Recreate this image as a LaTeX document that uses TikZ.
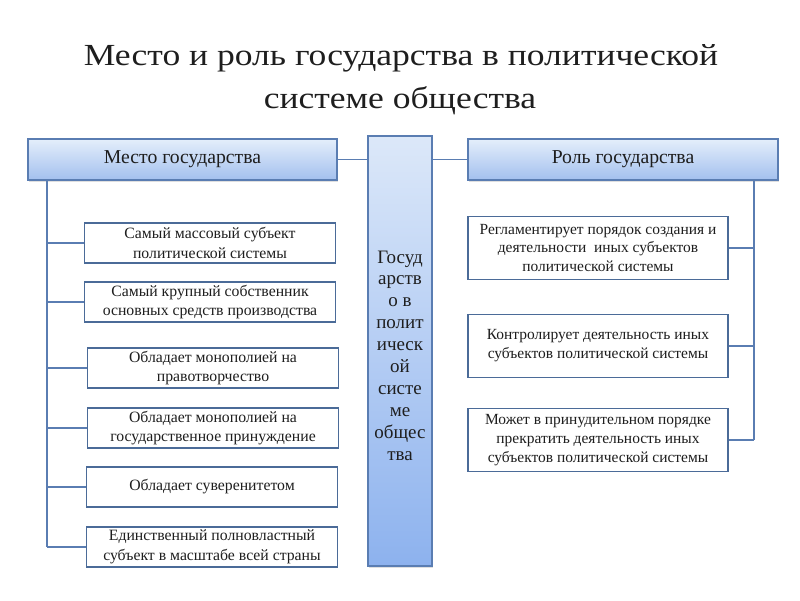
\documentclass[tikz,border=0pt]{standalone}
\usepackage{fontspec}
\setmainfont{Liberation Serif}
\newfontfamily\titlefont[FakeStretch=1.16]{Liberation Serif}
\usepackage{tikz}
\usetikzlibrary{positioning, calc, shadows}
\definecolor{headtop}{HTML}{E4EEFB}
\definecolor{headbot}{HTML}{A3C0EE}
\definecolor{coltop}{HTML}{DCE8F9}
\definecolor{colbot}{HTML}{8DB2EE}
\definecolor{frame}{HTML}{5A7DB2}
\definecolor{boxline}{HTML}{4B6B98}
\definecolor{ink}{HTML}{1E1E1E}
\tikzset{
  titletext/.style={anchor=base, text=ink, inner sep=0pt,
                    font=\titlefont\fontsize{21.8}{26}\selectfont},
  headbox/.style={draw=frame, line width=1.1pt, shading=axis, top color=headtop,
                  bottom color=headbot, minimum height=1.025cm, text=ink,
                  font=\fontsize{14}{16}\selectfont,
                  drop shadow={opacity=0.25, shadow xshift=0.6pt, shadow yshift=-1.2pt}},
  colbox/.style={draw=frame, line width=1.1pt, shading=axis, top color=coltop,
                 bottom color=colbot, minimum width=1.6cm, minimum height=10.75cm,
                 align=center, text=ink, inner sep=1pt,
                 font=\fontsize{13.5}{15.6}\selectfont,
                 drop shadow={opacity=0.25, shadow xshift=0.6pt, shadow yshift=-1.2pt}},
  itemL/.style={draw=boxline, line width=1pt, fill=white, minimum width=6.275cm,
                minimum height=1cm, align=center, text=ink, inner sep=1pt,
                font=\fontsize{11.2}{14}\selectfont},
  itemR/.style={draw=boxline, line width=1pt, fill=white, minimum width=6.5cm,
                minimum height=1.575cm, align=center, text=ink, inner sep=1pt,
                font=\fontsize{11}{13.5}\selectfont},
  link/.style={draw=frame, line width=1.4pt},
}
\begin{document}
\begin{tikzpicture}[x=0.025cm, y=-0.025cm]
  \useasboundingbox (0,0) rectangle (800,600);
  % title
  \node[titletext] (title1) at (401,65) {Место и роль государства в политической};
  \node[titletext] (title2) at (400,108) {системе общества};
  % heads and middle column
  \node[headbox, minimum width=7.725cm] (lhead) at (182.5,159.5) {Место государства};
  \node[headbox, minimum width=7.75cm] (rhead) at (623,159.5) {Роль государства};
  \node[colbox, anchor=north] (state) at (400,135)
        {\\[-1.3cm]\\Госуд\\арств\\о в\\полит\\ическ\\ой\\систе\\ме\\общес\\тва};
  \draw[link] (lhead.east) -- (lhead.east -| state.west);
  \draw[link] (rhead.west) -- (rhead.west -| state.east);
  % place of the state
  \node[itemL] (l1) at (210,243) {Самый массовый субъект\\политической системы};
  \node[itemL] (l2) at (210,302) {Самый крупный собственник\\основных средств производства};
  \node[itemL] (l3) at (213,368) {Обладает монополией на\\правотворчество};
  \node[itemL] (l4) at (213,428) {Обладает монополией на\\государственное принуждение};
  \node[itemL] (l5) at (212,487) {Обладает суверенитетом};
  \node[itemL] (l6) at (212,547) {Единственный полновластный\\субъект в масштабе всей страны};
  \coordinate (ltop) at ([xshift=0.5cm]lhead.south west);
  \draw[link] (ltop) -- (ltop |- l6.west);
  \foreach \i in {1,...,6}
    \draw[link] (ltop |- l\i.west) -- (l\i.west);
  % role of the state
  \node[itemR] (r1) at (598,248) {Регламентирует порядок создания и\\деятельности \ иных субъектов\\политической системы};
  \node[itemR] (r2) at (598,346) {Контролирует деятельность иных\\субъектов политической системы};
  \node[itemR] (r3) at (598,440) {Может в принудительном порядке\\прекратить деятельность иных\\субъектов политической системы};
  \coordinate (rtop) at ([xshift=-0.625cm]rhead.south east);
  \draw[link] (rtop) -- (rtop |- r3.east);
  \foreach \i in {1,2,3}
    \draw[link] (rtop |- r\i.east) -- (r\i.east);
\end{tikzpicture}
\end{document}
